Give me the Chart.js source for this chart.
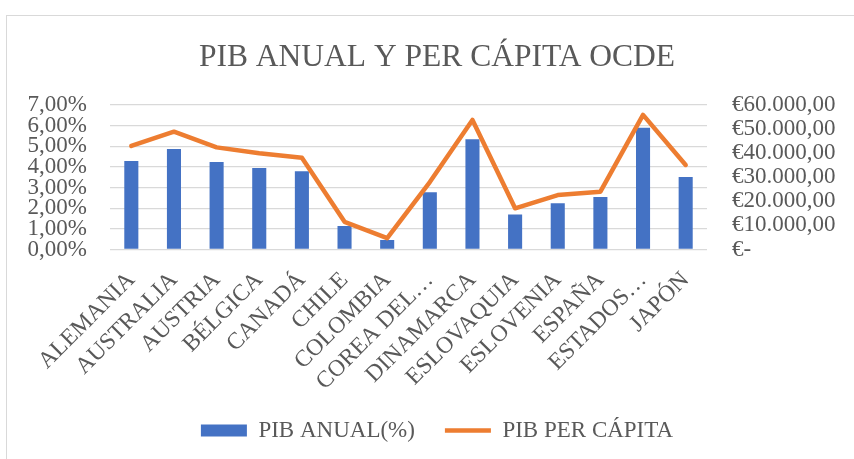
<!DOCTYPE html>
<html>
<head>
<meta charset="utf-8">
<script src="https://cdn.jsdelivr.net/npm/chart.js@4"></script>
<style>
html,body{margin:0;padding:0;background:#fff;}
#wrap{position:relative;width:854px;height:459px;overflow:hidden;background:#fff;}
#frame{position:absolute;left:6px;top:15px;width:900px;height:520px;border:1px solid #d9d9d9;box-sizing:border-box;}
#c{position:absolute;left:0;top:0;}
</style>
</head>
<body>
<div id="wrap"><div id="frame"></div><canvas id="c" width="854" height="459"></canvas></div>
<script>
const categories = ['ALEMANIA','AUSTRALIA','AUSTRIA','BÉLGICA','CANADÁ','CHILE','COLOMBIA','COREA DEL…','DINAMARCA','ESLOVAQUIA','ESLOVENIA','ESPAÑA','ESTADOS…','JAPÓN'];
const pibAnual = [4.29, 4.87, 4.24, 3.95, 3.79, 1.14, 0.46, 2.77, 5.34, 1.69, 2.24, 2.54, 5.90, 3.51];
const pibPerCapita = [43000, 48900, 42400, 40000, 38100, 11500, 4700, 28000, 53800, 17100, 22600, 24000, 55900, 35100];
const leftTickLabels = ['0,00%','1,00%','2,00%','3,00%','4,00%','5,00%','6,00%','7,00%'];
const rightTickLabels = ['€-','€10.000,00','€20.000,00','€30.000,00','€40.000,00','€50.000,00','€60.000,00'];
const seriesNames = ['PIB ANUAL(%)','PIB PER CÁPITA'];
const titleText = 'PIB ANUAL Y PER CÁPITA OCDE';

const FONT = 'Liberation Serif';
const GREY = '#595959';
Chart.defaults.font.family = FONT;
Chart.defaults.color = GREY;

new Chart(document.getElementById('c'), {
  data: {
    labels: categories,
    datasets: [
      {
        type: 'bar',
        label: seriesNames[0],
        data: pibAnual,
        yAxisID: 'y',
        backgroundColor: '#4472C4',
        borderWidth: 0,
        categoryPercentage: 1,
        barPercentage: 0.33,
        pointStyle: 'rect',
        order: 1
      },
      {
        type: 'line',
        label: seriesNames[1],
        data: pibPerCapita,
        yAxisID: 'y1',
        borderColor: '#ED7D31',
        backgroundColor: '#ED7D31',
        borderWidth: 4.5,
        borderJoinStyle: 'round',
        borderCapStyle: 'round',
        pointRadius: 0,
        pointHoverRadius: 0,
        pointStyle: 'line',
        tension: 0,
        fill: false,
        order: 0
      }
    ]
  },
  options: {
    responsive: false,
    devicePixelRatio: 1,
    animation: false,
    events: [],
    layout: { padding: { left: 20, right: 0, top: 0, bottom: 7 } },
    plugins: {
      tooltip: { enabled: false },
      title: {
        display: true,
        text: titleText,
        color: GREY,
        font: { family: FONT, size: 31.5, weight: 'normal' },
        padding: { top: 39, bottom: 28.2 }
      },
      legend: {
        display: true,
        position: 'bottom',
        labels: {
          usePointStyle: true,
          pointStyleWidth: 46,
          boxHeight: 12,
          padding: 30,
          color: GREY,
          font: { family: FONT, size: 23 },
          sort: (a, b) => a.datasetIndex - b.datasetIndex
        }
      }
    },
    scales: {
      x: {
        grid: { display: false },
        border: { display: false },
        ticks: {
          autoSkip: false,
          minRotation: 45,
          maxRotation: 45,
          padding: 9,
          color: GREY,
          font: { family: FONT, size: 23.5 }
        },
        afterFit(s) { s.height = 139.5; }
      },
      y: {
        position: 'left',
        min: 0,
        max: 7,
        grid: { color: '#d9d9d9', lineWidth: 1.3, drawTicks: false },
        border: { display: false },
        ticks: {
          autoSkip: false,
          stepSize: 1,
          padding: 23,
          color: GREY,
          font: { family: FONT, size: 23 },
          callback: (v) => leftTickLabels[Math.round(v)]
        },
        afterFit(s) { s.width = 90; }
      },
      y1: {
        position: 'right',
        min: 0,
        max: 60000,
        grid: { display: false, drawTicks: false },
        border: { display: false },
        ticks: {
          autoSkip: false,
          stepSize: 10000,
          padding: 25,
          color: GREY,
          font: { family: FONT, size: 23 },
          callback: (v) => rightTickLabels[Math.round(v / 10000)]
        },
        afterFit(s) { s.width = 147; }
      }
    }
  }
});
</script>
</body>
</html>
